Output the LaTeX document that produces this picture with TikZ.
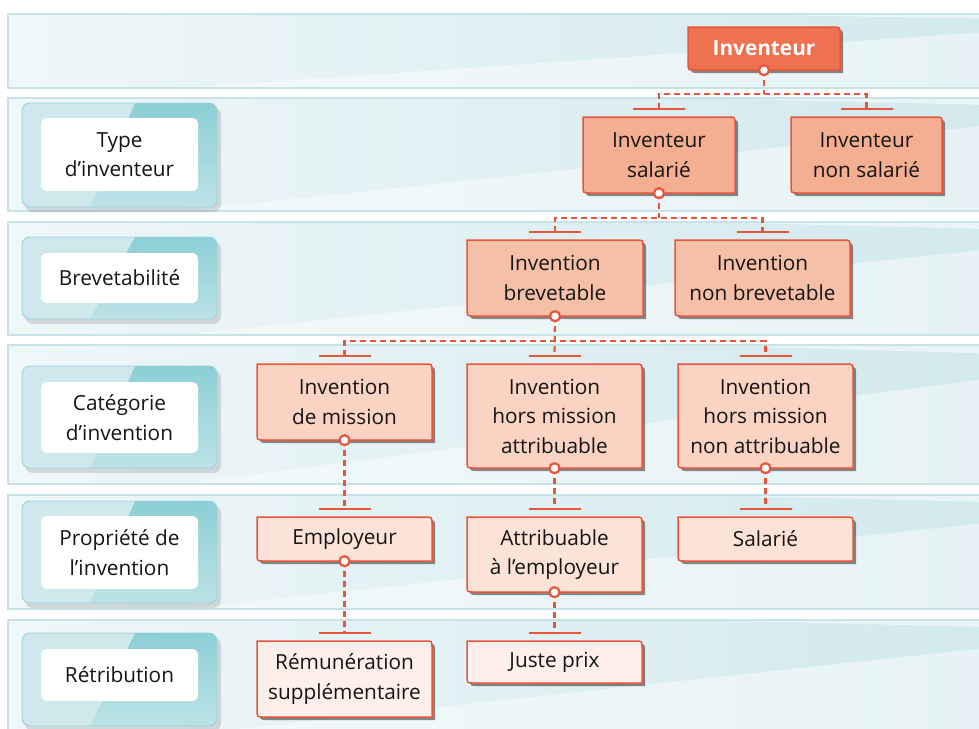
\documentclass[tikz,border=0pt]{standalone}
\usepackage{fontspec}
\setmainfont{Open Sans}
\usetikzlibrary{calc}
\definecolor{bandA}{HTML}{EFF7F9}
\definecolor{bandB}{HTML}{D2E9ED}
\definecolor{bandline}{HTML}{C8E3E8}
\definecolor{labdark}{HTML}{8BCFD5}
\definecolor{labbot}{HTML}{BCE2E6}
\definecolor{lablight}{HTML}{CFE8EC}
\definecolor{labline}{HTML}{9CD3D9}
\definecolor{red1}{HTML}{E8553A}
\definecolor{lvA}{HTML}{EE7150}
\definecolor{lvB}{HTML}{F4AE91}
\definecolor{lvC}{HTML}{F6BFA7}
\definecolor{lvD}{HTML}{FAD3C3}
\definecolor{lvE}{HTML}{FCE2D7}
\definecolor{lvF}{HTML}{FDF0EB}
\definecolor{txt}{HTML}{151515}
\tikzset{
  bandfill/.style={left color=bandA, right color=bandB},
  bandedge/.style={draw=bandline, line width=1.2pt},
  labedge/.style={draw=labline, line width=0.8pt},
  labinner/.style={fill=white, rounded corners=6pt, inner sep=0pt, align=center, text=txt},
  boxline/.style={draw=red1, line width=1.5pt},
  boxshadow/.style={fill=black, opacity=0.45},
  boxtext/.style={inner sep=0pt, align=center, text=txt},
  dashline/.style={draw=red1, line width=2.2pt, dash pattern=on 6pt off 4pt},
  tbar/.style={draw=red1, line width=2.2pt},
  dot/.style={circle, draw=red1, fill=white, line width=2.2pt, minimum size=10pt, inner sep=0pt}
}
\newcommand\band[2]{%
  \fill[bandfill] (8,#1) rectangle (979,#2);
  \fill[white, opacity=0.45] (180,#2) -- (979,#2) -- (979,{#1+0.25*(#2-#1)}) -- cycle;
  \fill[white, opacity=0.5] (700,#1) -- (979,#1) -- (979,{#1+0.06*(#2-#1)}) -- cycle;
  \draw[bandedge] (979,#1) -- (8,#1) -- (8,#2) -- (979,#2);
}
\newcommand\lab[6]{%
  \fill[black, opacity=0.12, rounded corners=8pt] (25,#2+4) rectangle (221,#3+5);
  \begin{scope}
    \clip[rounded corners=8pt] (22,#2) rectangle (217,#3);
    \fill[top color=labdark, bottom color=labbot] (22,#2) rectangle (217,#3);
    \fill[lablight] (22,#2) -- (135,#2) -- (90,#3) -- (22,#3) -- cycle;
  \end{scope}
  \draw[labedge, rounded corners=8pt] (22,#2) rectangle (217,#3);
  \pgfmathsetmacro\lh{#5-#4}
  \node[labinner, minimum width=157pt, minimum height=\lh pt] (#1) at (119.5,{(#4+#5)/2}) {#6};
}
\newcommand\cbox[7]{%
  \fill[boxshadow, shift={(3,3)}] (#2,#3) -- (#4-7,#3) .. controls (#4,#3) .. (#4,#3+7) -- (#4,#5) -- (#2+7,#5) .. controls (#2,#5) .. (#2,#5-7) -- cycle;
  \path[boxline, fill=#6] (#2,#3) -- (#4-7,#3) .. controls (#4,#3) .. (#4,#3+7) -- (#4,#5) -- (#2+7,#5) .. controls (#2,#5) .. (#2,#5-7) -- cycle;
  \pgfmathsetmacro\bw{#4-#2}
  \pgfmathsetmacro\bh{#5-#3}
  \node[boxtext, minimum width=\bw pt, minimum height=\bh pt] (#1) at ({(#2+#4)/2},{(#3+#5)/2}) {#7};
}
\newcommand\tb[1]{%
  \coordinate (t-#1) at ($(#1.north)+(0,-8)$);
  \draw[tbar] ($(t-#1)+(-26,0)$) -- ($(t-#1)+(26,0)$);
}
\begin{document}
\begin{tikzpicture}[x=1pt, y=-1pt, font=\fontsize{20.8}{29.5}\selectfont]
\useasboundingbox (0,0) rectangle (979,728);
\fill[white] (0,0) rectangle (979,728);
% bands
\band{14}{88}
\band{98}{211}
\band{222}{335}
\band{345}{484}
\band{495}{609}
\band{620}{735}
% row labels
\lab{lType}{103}{207}{118}{191}{Type\\d’inventeur}
\lab{lBrev}{237}{319}{253}{303}{Brevetabilité}
\lab{lCat}{366}{468}{382}{453}{Catégorie\\d’invention}
\lab{lProp}{501}{603}{516}{589}{Propriété de\\l’invention}
\lab{lRet}{633}{726}{649}{701}{Rétribution}
% chart boxes
\cbox{inv}{688}{27}{840}{70}{lvA}{\color{white}\bfseries Inventeur}
\cbox{sal}{583}{117}{735}{193}{lvB}{Inventeur\\salarié}
\cbox{nsal}{791}{117}{942}{193}{lvB}{Inventeur\\non salarié}
\cbox{brev}{467}{240}{643}{316}{lvC}{Invention\\brevetable}
\cbox{nbrev}{675}{240}{850}{316}{lvC}{Invention\\non brevetable}
\cbox{mis}{257}{364}{432}{440}{lvD}{Invention\\de mission}
\cbox{hma}{467}{364}{642}{468}{lvD}{Invention\\hors mission\\attribuable}
\cbox{hmna}{678}{364}{853}{468}{lvD}{Invention\\hors mission\\non attribuable}
\cbox{emp}{257}{517}{432}{561}{lvE}{Employeur}
\cbox{att}{467}{517}{642}{592}{lvE}{Attribuable\\à l’employeur}
\cbox{sal2}{678}{517}{853}{561}{lvE}{Salarié}
\cbox{rem}{257}{641}{432}{717}{lvF}{Rémunération\\supplémentaire}
\cbox{jp}{467}{641}{642}{683}{lvF}{Juste prix}
% T bars
\tb{sal}\tb{nsal}\tb{brev}\tb{nbrev}\tb{mis}\tb{hma}\tb{hmna}
\tb{emp}\tb{att}\tb{sal2}\tb{rem}\tb{jp}
% connectors
\coordinate (j1) at ($(inv.south)+(0,24)$);
\draw[dashline] (inv.south) -- (j1);
\draw[dashline] (t-sal) |- (j1) -| (t-nsal);
\coordinate (j2) at ($(sal.south)+(0,25)$);
\draw[dashline] (sal.south) -- (j2);
\draw[dashline] (t-brev) |- (j2) -| (t-nbrev);
\coordinate (j3) at ($(brev.south)+(0,25)$);
\draw[dashline] (brev.south) -- (t-hma);
\draw[dashline] (t-mis) |- (j3) -| (t-hmna);
\draw[dashline] (mis.south) -- (t-emp);
\draw[dashline] (hma.south) -- (t-att);
\draw[dashline] (hmna.south) -- (t-sal2);
\draw[dashline] (emp.south) -- (t-rem);
\draw[dashline] (att.south) -- (t-jp);
% dots
\foreach \n in {inv,sal,brev,mis,hma,hmna,emp,att}
  \node[dot] (d-\n) at (\n.south) {};
\end{tikzpicture}
\end{document}
